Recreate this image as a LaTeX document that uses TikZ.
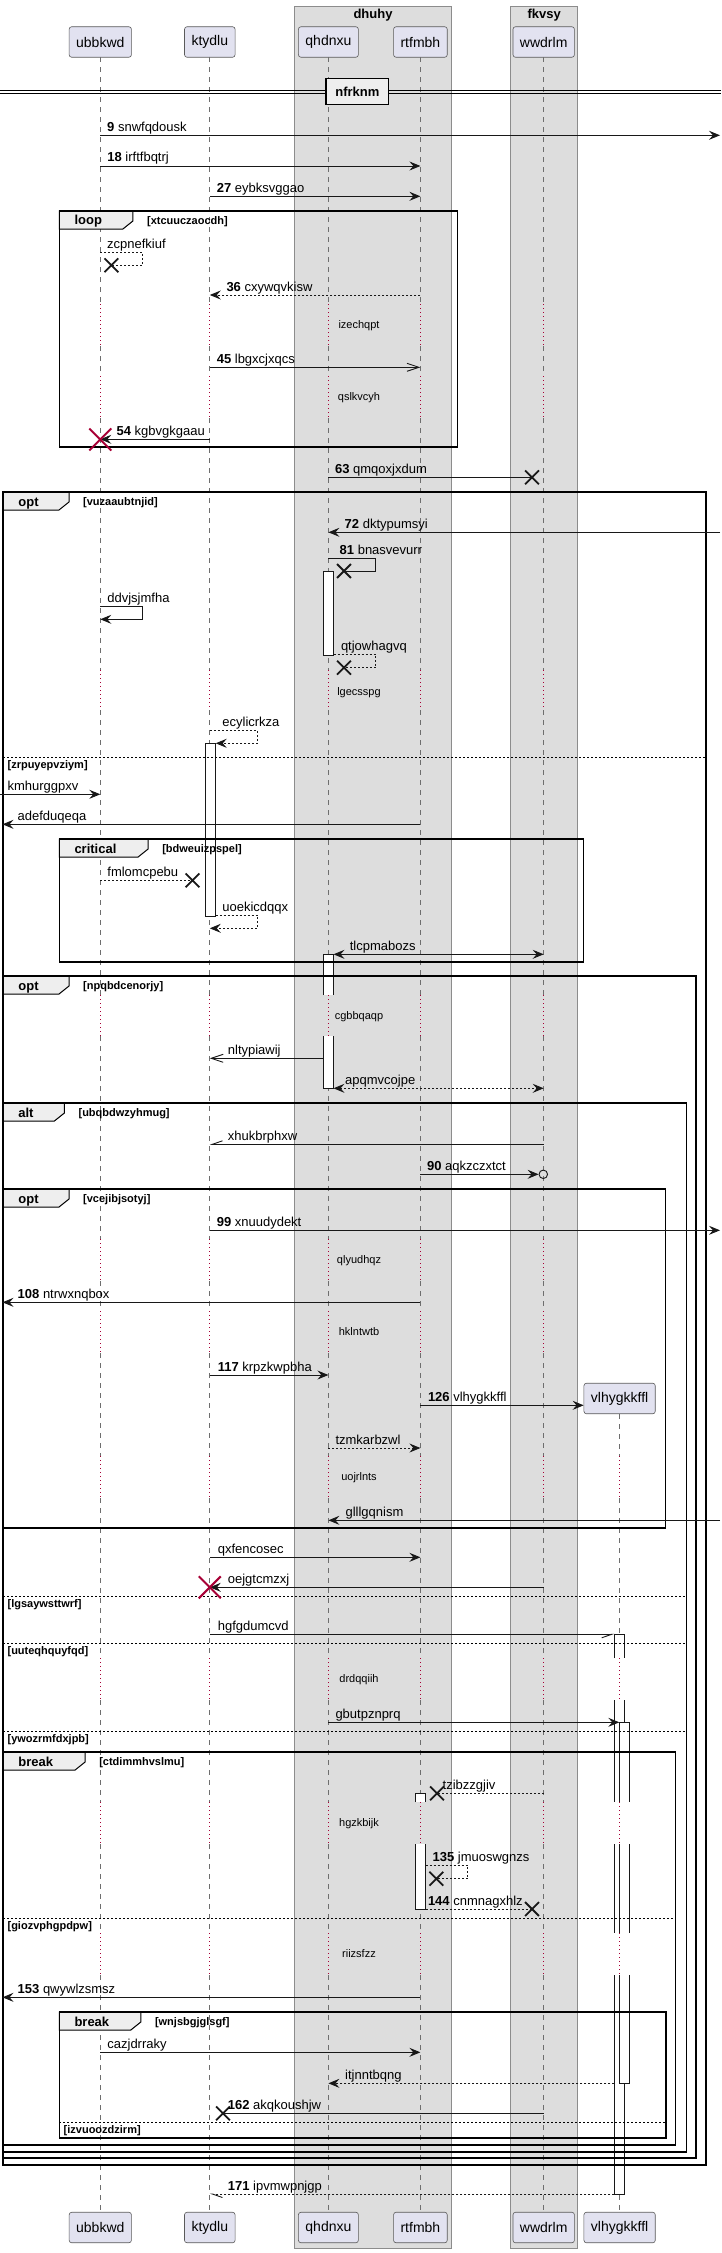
\documentclass[tikz,border=0pt]{standalone}
\usepackage{fontspec}
\setmainfont{Liberation Sans}
\usetikzlibrary{arrows.meta,shapes.misc}
\definecolor{PartFill}{HTML}{E2E2F0}
\definecolor{PartLine}{HTML}{5A5A5A}
\definecolor{GroupFill}{HTML}{DDDDDD}
\definecolor{GroupLine}{HTML}{8C8C8C}
\definecolor{TabFill}{HTML}{EEEEEE}
\definecolor{LifeGray}{HTML}{6E6E6E}
\definecolor{DelayRed}{HTML}{A80036}
\definecolor{InkBlack}{HTML}{181818}

% message: [style]{y}{from}{to}{label x}{number}{text}
\newcommand{\msg}[7][]{%
  \draw[msgline,#1] (#3 |- 0,#2) -- (#4 |- 0,#2);
  \node[msglabel] (m-#7) at (#5,#2-4) {\ifx\relax#6\relax\else\textbf{#6} \fi#7};}
% self message: [style]{y1}{y2}{from}{out x}{to}{label x}{number}{text}
\newcommand{\selfmsg}[9][]{%
  \draw[msgline,#1] (#4 |- 0,#2) -- (#5,#2) -- (#5,#3) -- (#6 |- 0,#3);
  \node[msglabel] (m-#9) at (#7,#2-4) {\ifx\relax#8\relax\else\textbf{#8} \fi#9};}
% frame: {x0}{y0}{x1}{y1}{tab x}{kind}{condition}
\newcommand{\seqframe}[7]{%
  \draw[tab] (#1,#2) -- (#5,#2) -- (#5,#2+10) -- (#5-10,#2+18) -- (#1,#2+18) -- cycle;
  \draw[frame] (#1,#2) rectangle (#3,#4);
  \node[tablabel] (k-#7) at (#1+15,#2+14) {#6};
  \node[condlabel] (c-#7) at (#5+14,#2+13) {[#7]};}
\newcommand{\seqelse}[4]{%
  \draw[elseline] (#1,#3) -- (#2,#3);
  \node[condlabel] (c-#4) at (#1+4.2,#3+11.5) {[#4]};}
\newcommand{\delaytext}[2]{\node[delaylabel] (d-#2) at (359,#1+3.5) {#2};}

\begin{document}
\begin{tikzpicture}[x=1pt,y=-1pt,
    part/.style={draw=PartLine,fill=PartFill,rounded corners=2.5pt,line width=0.6pt,
                 minimum height=30.5pt,inner xsep=7pt,font=\fontsize{14}{16}\selectfont},
    groupbox/.style={draw=GroupLine,fill=GroupFill,line width=0.7pt},
    grouptitle/.style={anchor=base,inner sep=0pt,font=\fontsize{13}{15}\selectfont\bfseries},
    sepbox/.style={draw=black,fill=TabFill,line width=1.5pt,minimum width=62.6pt,
                   minimum height=26pt,inner sep=0pt,font=\fontsize{13}{15}\selectfont\bfseries},
    lifeline/.style={draw=LifeGray,line width=0.8pt,dash pattern=on 5pt off 5pt},
    delayline/.style={draw=DelayRed,line width=0.8pt,dash pattern=on 1pt off 3pt},
    frame/.style={draw=black,line width=1.5pt},
    tab/.style={draw=black,fill=TabFill,line width=1pt},
    tablabel/.style={anchor=base west,inner sep=0pt,font=\fontsize{13}{15}\selectfont\bfseries},
    condlabel/.style={anchor=base west,inner sep=0pt,font=\fontsize{11}{13}\selectfont\bfseries},
    elseline/.style={draw=black,line width=0.8pt,dash pattern=on 2pt off 2pt},
    actline/.style={draw=InkBlack,line width=0.9pt},
    msgline/.style={draw=InkBlack,line width=0.9pt},
    msglabel/.style={anchor=base west,inner sep=0pt,font=\fontsize{13}{15}\selectfont},
    delaylabel/.style={anchor=base,inner sep=0pt,font=\fontsize{11}{13}\selectfont},
    ar/.style={-{Stealth[length=11pt,width=9pt,inset=4pt]}},
    arr/.style={{Stealth[length=11pt,width=9pt,inset=4pt]}-{Stealth[length=11pt,width=9pt,inset=4pt]}},
    opn/.style={-{Straight Barb[length=12pt,width=8pt]}},
    halfa/.style={-{Straight Barb[length=10pt,width=7pt,harpoon,swap]}},
    halfb/.style={-{Straight Barb[length=10pt,width=7pt,harpoon]}},
    dsh/.style={dash pattern=on 2pt off 2pt},
    xmk/.style={cross out,draw=InkBlack,line width=1.8pt,minimum size=12pt,inner sep=0pt},
    killmk/.style={cross out,draw=DelayRed,line width=2pt,minimum size=20pt,inner sep=0pt}]
  \useasboundingbox (0,0) rectangle (721,2253);
  \fill[white] (0,0) rectangle (721,2253);

  % boxes
  \draw[groupbox] (294.4,6) rectangle (451.7,2248);
  \draw[groupbox] (510.6,6) rectangle (577.7,2248);
  \node[grouptitle] (dhuhy) at (373,18.5) {dhuhy};
  \node[grouptitle] (fkvsy) at (544.2,18.5) {fkvsy};

  % participants
  \node[part] (ubbkwd) at (100.3,42) {ubbkwd};
  \node[part] (ktydlu) at (209.8,42) {ktydlu};
  \node[part] (qhdnxu) at (328.4,42) {qhdnxu};
  \node[part] (rtfmbh) at (420.4,42) {rtfmbh};
  \node[part] (wwdrlm) at (543.7,42) {wwdrlm};
  \node[part] (vlhygkkffl) at (619.6,1398.5) {vlhygkkffl};
  \foreach \p/\x in {ubbkwd/100.3,ktydlu/209.8,qhdnxu/328.4,rtfmbh/420.4,wwdrlm/543.7,vlhygkkffl/619.6}
    \node[part] (\p-f) at (\x,2227.5) {\p};

  % lifelines
  \foreach \p in {ubbkwd,ktydlu,qhdnxu,rtfmbh,wwdrlm}{
    \foreach \a/\b in {57.3/304,346/376,418/670,710/995,1036/1239,1281/1311,
                       1353/1456,1498/1658,1700/1802,1844/1933,1975/2212}
      \draw[lifeline] (\p |- 0,\a) -- (\p |- 0,\b);
  }
  \foreach \a/\b in {1414/1456,1498/1658,1700/1802,1844/1933,1975/2212}
    \draw[lifeline] (vlhygkkffl |- 0,\a) -- (vlhygkkffl |- 0,\b);
  \foreach \p in {ubbkwd,ktydlu,qhdnxu,rtfmbh,wwdrlm}{
    \foreach \a/\b in {304/346,376/418,670/710,995/1036,1239/1281,1311/1353,
                       1456/1498,1658/1700,1802/1844,1933/1975}
      \draw[delayline] (\p |- 0,\a) -- (\p |- 0,\b);
  }
  \foreach \a/\b in {1456/1498,1658/1700,1802/1844,1933/1975}
    \draw[delayline] (vlhygkkffl |- 0,\a) -- (vlhygkkffl |- 0,\b);

  % activations
  \draw[actline,fill=white] (323.4,571) rectangle (333.5,655);
  \draw[actline,fill=white] (205.6,743) rectangle (215.7,916);
  \fill[white] (323.4,954) rectangle (333.5,995);
  \draw[actline] (323.4,995) -- (323.4,954) -- (333.5,954) -- (333.5,995);
  \fill[white] (323.4,1036) rectangle (333.5,1088);
  \draw[actline] (323.4,1036) -- (323.4,1088) -- (333.5,1088) -- (333.5,1036);
  \fill[white] (614.3,1634) rectangle (624.3,1658);
  \draw[actline] (614.3,1658) -- (614.3,1634) -- (624.3,1634) -- (624.3,1658);
  \foreach \a/\b in {1700/1802,1844/1933}{
    \fill[white] (614.3,\a) rectangle (624.3,\b);
    \draw[actline] (614.3,\a) -- (614.3,\b) (624.3,\a) -- (624.3,\b);
  }
  \fill[white] (614.3,1975) rectangle (624.3,2194);
  \draw[actline] (614.3,1975) -- (614.3,2194) -- (624.3,2194) -- (624.3,1975);
  \fill[white] (619.3,1722) rectangle (629.3,1802);
  \draw[actline] (619.3,1802) -- (619.3,1722) -- (629.3,1722) -- (629.3,1802);
  \fill[white] (619.3,1844) rectangle (629.3,1933);
  \draw[actline] (619.3,1844) -- (619.3,1933) (629.3,1844) -- (629.3,1933);
  \fill[white] (619.3,1975) rectangle (629.3,2083);
  \draw[actline] (619.3,1975) -- (619.3,2083) -- (629.3,2083) -- (629.3,1975);
  \fill[white] (415.8,1793) rectangle (425.5,1802);
  \draw[actline] (415.8,1802) -- (415.8,1793) -- (425.5,1793) -- (425.5,1802);
  \fill[white] (415.8,1844) rectangle (425.5,1909);
  \draw[actline] (415.8,1844) -- (415.8,1909) -- (425.5,1909) -- (425.5,1844);

  % separator
  \draw[black,line width=0.8pt] (0,90) -- (721,90) (0,93.3) -- (721,93.3);
  \node[sepbox] (nfrknm) at (357.4,91.3) {nfrknm};

  % frames
  \seqframe{59.3}{211}{457.7}{447}{132.9}{loop}{xtcuuczaocdh}
  \seqframe{3.2}{492}{706}{2165}{69}{opt}{vuzaaubtnjid}
  \seqelse{3.2}{706}{757}{zrpuyepvziym}
  \seqframe{59.3}{839}{583.7}{962}{148.1}{critical}{bdweuizpspel}
  \seqframe{3.2}{976}{696}{2158}{69}{opt}{npqbdcenorjy}
  \seqframe{3.2}{1103}{686.3}{2152}{64.4}{alt}{ubqbdwzyhmug}
  \seqframe{3.2}{1189}{665.6}{1528}{69}{opt}{vcejibjsotyj}
  \seqelse{3.2}{686.3}{1596}{lgsaywsttwrf}
  \seqelse{3.2}{686.3}{1643}{uuteqhquyfqd}
  \seqelse{3.2}{686.3}{1731}{ywozrmfdxjpb}
  \seqframe{3.2}{1752}{675.7}{2145}{85.1}{break}{ctdimmhvslmu}
  \seqelse{3.2}{675.7}{1918}{giozvphgpdpw}
  \seqframe{59.3}{2012}{666}{2138}{140.8}{break}{wnjsbgjglsgf}
  \seqelse{59.3}{666}{2122}{izvuoozdzirm}

  % ends and activation edges
  \coordinate (lft0) at (0,0);
  \coordinate (lft) at (2.5,0);
  \coordinate (rgt) at (720,0);
  \coordinate (act1r) at (333.5,0);
  \coordinate (act2r) at (215.7,0);
  \coordinate (act3l) at (323.4,0);
  \coordinate (act3r) at (333.5,0);
  \coordinate (act4l) at (614.3,0);
  \coordinate (act5l) at (619.3,0);
  \coordinate (act6r) at (425.5,0);
  \node[xmk] (x-zcp) at (111.4,265.3) {};
  \node[xmk] (x-63) at (532,477.3) {};
  \node[xmk] (x-81) at (344,571) {};
  \node[xmk] (x-qtj) at (344,667.7) {};
  \node[xmk] (x-fml) at (192.5,880.3) {};
  \node[xmk] (x-tzi) at (437,1793.3) {};
  \node[xmk] (x-135) at (436.3,1878.7) {};
  \node[xmk] (x-144) at (532,1909) {};
  \node[xmk] (x-162) at (223,2113.3) {};
  \node[circle,draw=InkBlack,line width=0.9pt,minimum size=8.5pt,inner sep=0pt]
       (o90) at (543.3,1174.3) {};

  % messages
  \msg[ar]{135.3}{ubbkwd}{rgt}{107}{9}{snwfqdousk}
  \msg[ar]{166}{ubbkwd}{rtfmbh}{107.2}{18}{irftfbqtrj}
  \msg[ar]{196.3}{ktydlu}{rtfmbh}{216.6}{27}{eybksvggao}
  \selfmsg[dsh]{252.3}{265.3}{ubbkwd}{142.6}{x-zcp}{107}{}{zcpnefkiuf}
  \msg[ar,dsh]{295}{rtfmbh}{ktydlu}{226.3}{36}{cxywqvkisw}
  \delaytext{325}{izechqpt}
  \msg[opn]{367.3}{ktydlu}{rtfmbh}{216.6}{45}{lbgxcjxqcs}
  \delaytext{397}{qslkvcyh}
  \msg[ar]{439.3}{ktydlu}{ubbkwd}{116.4}{54}{kgbvgkgaau}
  \node[killmk] (kill-ubbkwd) at (ubbkwd |- 0,439.5) {};
  \msg{477.3}{qhdnxu}{x-63}{334.9}{63}{qmqoxjxdum}
  \msg[ar]{532.3}{rgt}{qhdnxu}{344.5}{72}{dktypumsyi}
  \selfmsg{558.3}{571}{qhdnxu}{375.8}{x-81}{339.5}{81}{bnasvevurr}
  \selfmsg[ar]{606.7}{619.3}{ubbkwd}{142.6}{ubbkwd}{107.2}{}{ddvjsjmfha}
  \selfmsg[dsh]{654.3}{667.7}{act1r}{375.8}{x-qtj}{340.8}{}{qtjowhagvq}
  \delaytext{692}{lgecsspg}
  \selfmsg[ar,dsh]{730.7}{743.3}{ktydlu}{257.6}{act2r}{222.2}{}{ecylicrkza}
  \msg[ar]{794.3}{lft0}{ubbkwd}{7.4}{}{kmhurggpxv}
  \msg[ar]{824.3}{rtfmbh}{lft}{17.5}{}{adefduqeqa}
  \msg[dsh]{880.3}{ubbkwd}{x-fml}{107.2}{}{fmlomcpebu}
  \selfmsg[ar,dsh]{915}{928.3}{act2r}{257.6}{ktydlu}{222.2}{}{uoekicdqqx}
  \msg[arr]{954.3}{act3r}{wwdrlm}{349.6}{}{tlcpmabozs}
  \delaytext{1016}{cgbbqaqp}
  \msg[opn]{1058.3}{act3l}{ktydlu}{227.7}{}{nltypiawij}
  \msg[arr,dsh]{1088.3}{act3r}{wwdrlm}{345}{}{apqmvcojpe}
  \msg[halfa]{1144.3}{wwdrlm}{ktydlu}{227.7}{}{xhukbrphxw}
  \draw[msgline,ar] (rtfmbh |- o90) -- (o90.west);
  \node[msglabel] (m-aqkzczxtct) at (426.9,1170.3) {\textbf{90} aqkzczxtct};
  \msg[ar]{1230.3}{ktydlu}{rgt}{216.6}{99}{xnuudydekt}
  \delaytext{1260}{qlyudhqz}
  \msg[ar]{1302.3}{rtfmbh}{lft}{17.5}{108}{ntrwxnqbox}
  \delaytext{1332}{hklntwtb}
  \msg[ar]{1375}{ktydlu}{qhdnxu}{217.6}{117}{krpzkwpbha}
  \msg[ar]{1405.3}{rtfmbh}{vlhygkkffl.west}{427.8}{126}{vlhygkkffl}
  \msg[ar,dsh]{1448}{qhdnxu}{rtfmbh}{335.3}{}{tzmkarbzwl}
  \delaytext{1477}{uojrlnts}
  \msg[ar]{1520.3}{rgt}{qhdnxu}{345.4}{}{glllgqnism}
  \msg[ar]{1557.3}{ktydlu}{rtfmbh}{217.6}{}{qxfencosec}
  \msg[ar]{1587.3}{wwdrlm}{ktydlu}{227.7}{}{oejgtcmzxj}
  \node[killmk] (kill-ktydlu) at (ktydlu |- 0,1587.3) {};
  \msg[halfa]{1634.3}{ktydlu}{act4l}{217.6}{}{hgfgdumcvd}
  \delaytext{1679}{drdqqiih}
  \msg[ar]{1722.3}{qhdnxu}{act5l}{335.3}{}{gbutpznprq}
  \msg[dsh]{1793.3}{wwdrlm}{x-tzi}{442.5}{}{tzibzzgjiv}
  \delaytext{1823}{hgzkbijk}
  \selfmsg[dsh]{1865.3}{1878.7}{act6r}{467.8}{x-135}{432.4}{135}{jmuoswgnzs}
  \msg[dsh]{1909}{act6r}{x-144}{427.8}{144}{cnmnagxhlz}
  \delaytext{1954}{riizsfzz}
  \msg[ar]{1997.3}{rtfmbh}{lft}{17.5}{153}{qwywlzsmsz}
  \msg[ar]{2052.3}{ubbkwd}{rtfmbh}{107.2}{}{cazjdrraky}
  \msg[ar,dsh]{2083.3}{act4l}{qhdnxu}{345}{}{itjnntbqng}
  \msg{2113.3}{wwdrlm}{x-162}{227.7}{162}{akqkoushjw}
  \msg[halfb,dsh]{2194}{act4l}{ktydlu}{227.7}{171}{ipvmwpnjgp}
\end{tikzpicture}
\end{document}
